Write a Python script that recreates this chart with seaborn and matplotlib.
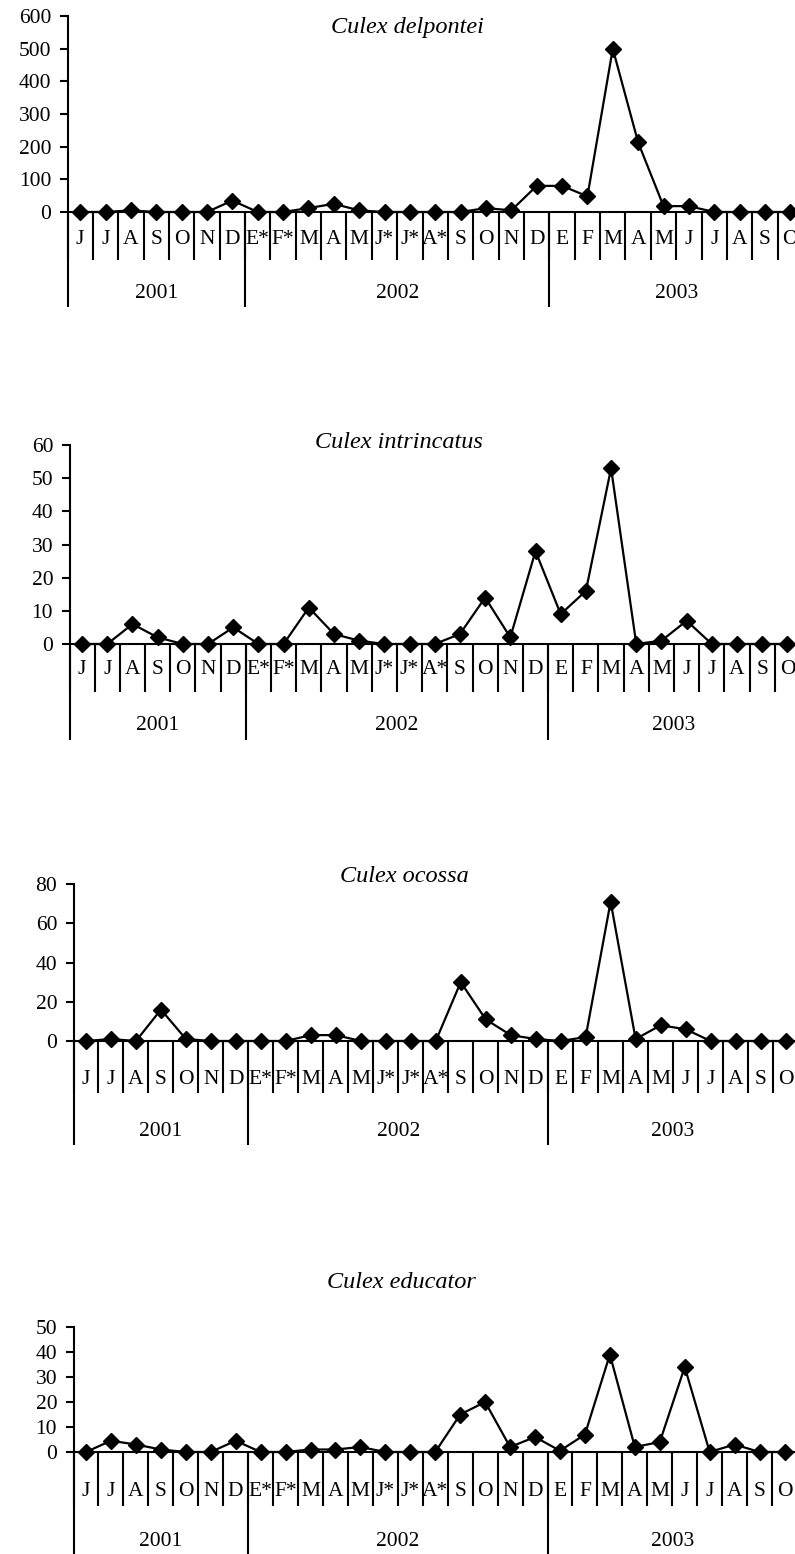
import numpy as np
import pandas as pd
import seaborn as sns
import matplotlib.pyplot as plt
from matplotlib.transforms import offset_copy

# month categories (2001: Jun-Dec, 2002: Jan-Dec, 2003: Jan-Oct)
months = ["J", "J", "A", "S", "O", "N", "D",
          "E*", "F*", "M", "A", "M", "J*", "J*", "A*", "S", "O", "N", "D",
          "E", "F", "M", "A", "M", "J", "J", "A", "S", "O"]
years = ["2001", "2002", "2003"]
year_first = [0, 7, 19]
year_last = [6, 18, 28]

species = ["Culex delpontei", "Culex intrincatus", "Culex ocossa", "Culex educator"]
delpontei = [0, 0, 5, 0, 0, 0, 35,
             0, 0, 12, 25, 5, 0, 0, 0, 0, 12, 5, 80,
             80, 48, 500, 213, 18, 18, 0, 0, 0, 0]
intrincatus = [0, 0, 6, 2, 0, 0, 5,
               0, 0, 11, 3, 1, 0, 0, 0, 3, 14, 2, 28,
               9, 16, 53, 0, 1, 7, 0, 0, 0, 0]
ocossa = [0, 1, 0, 16, 1, 0, 0,
          0, 0, 3, 3, 0, 0, 0, 0, 30, 11, 3, 1,
          0, 2, 71, 1, 8, 6, 0, 0, 0, 0]
educator = [0, 4.5, 3, 1, 0, 0, 4.5,
            0, 0, 1, 1, 2, 0, 0, 0, 15, 20, 2, 6,
            0.5, 7, 39, 2, 4, 34, 0, 3, 0, 0]
series = [delpontei, intrincatus, ocossa, educator]
y_max = [600, 60, 80, 50]
y_step = [100, 10, 20, 10]

# panel geometry in pixels: left, right, zero line, top, month tick length,
# year line length, month label offset, year label offset, title x, title y
layout = [
    (67.5, 803, 212, 16, 48, 95, 27, 81, 407, 27),
    (69.5, 800, 644, 445, 48, 96, 25, 81, 399, 442),
    (73.5, 798, 1041, 884, 52, 104, 38, 91, 404, 877),
    (73.5, 797, 1452, 1327, 54, 120, 39, 90, 401, 1282),
]

sns.set_style("ticks")
plt.rcParams["font.family"] = ["Liberation Serif", "DejaVu Serif"]
for key in ["text.color", "axes.edgecolor", "xtick.color", "ytick.color", "axes.labelcolor"]:
    plt.rcParams[key] = "black"

W, H = 795, 1554
fig = plt.figure(figsize=(W / 100, H / 100), dpi=100)
px = 0.72  # points per pixel at dpi 100
fs = 15.5

for name, vals, ymax, step, geo in zip(species, series, y_max, y_step, layout):
    left, right, zero, top, tlen, ylen, moff, yoff, tx, ty = geo
    h = zero - top
    ax = fig.add_axes([left / W, 1 - zero / H, (right - left) / W, h / H])
    df = pd.DataFrame({"pos": np.arange(len(months)), "count": vals})
    sns.lineplot(data=df, x="pos", y="count", ax=ax, color="black", marker="D",
                 markersize=8, markeredgecolor="black", markeredgewidth=1,
                 linewidth=1.6, clip_on=False, zorder=5)
    ax.set_xlim(-0.5, len(months) - 0.5)
    ax.set_ylim(0, ymax)
    ax.set_yticks(np.arange(0, ymax + 1, step))
    ax.set_xticks([])
    ax.set_xticks(np.arange(-0.5, len(months)), minor=True)
    ax.tick_params(axis="x", which="minor", length=tlen * px, width=1.5, direction="out")
    ax.tick_params(axis="y", length=8 * px, width=1.5, pad=6, labelsize=fs)
    ax.set_xlabel("")
    ax.set_ylabel("")
    for s in ["top", "right"]:
        ax.spines[s].set_visible(False)
    for s in ["left", "bottom"]:
        ax.spines[s].set_linewidth(1.5)

    # year separators below the month row
    bounds = [f - 0.5 for f in year_first]
    ax.vlines(bounds, 0, -ylen / h, transform=ax.get_xaxis_transform(),
              color="black", lw=1.5, clip_on=False)

    tr_m = offset_copy(ax.get_xaxis_transform(), fig=fig, y=-moff, units="dots")
    for i, m in enumerate(months):
        ax.text(i, 0, m, transform=tr_m, ha="center", va="center", fontsize=fs)
    tr_y = offset_copy(ax.get_xaxis_transform(), fig=fig, y=-yoff, units="dots")
    for yr, a, b in zip(years, year_first, year_last):
        ax.text((a + b) / 2, 0, yr, transform=tr_y, ha="center", va="center", fontsize=fs)

    fig.text(tx / W, 1 - ty / H, name, ha="center", va="center",
             fontstyle="italic", fontsize=17.5)

fig.savefig("out.png", dpi=100)
